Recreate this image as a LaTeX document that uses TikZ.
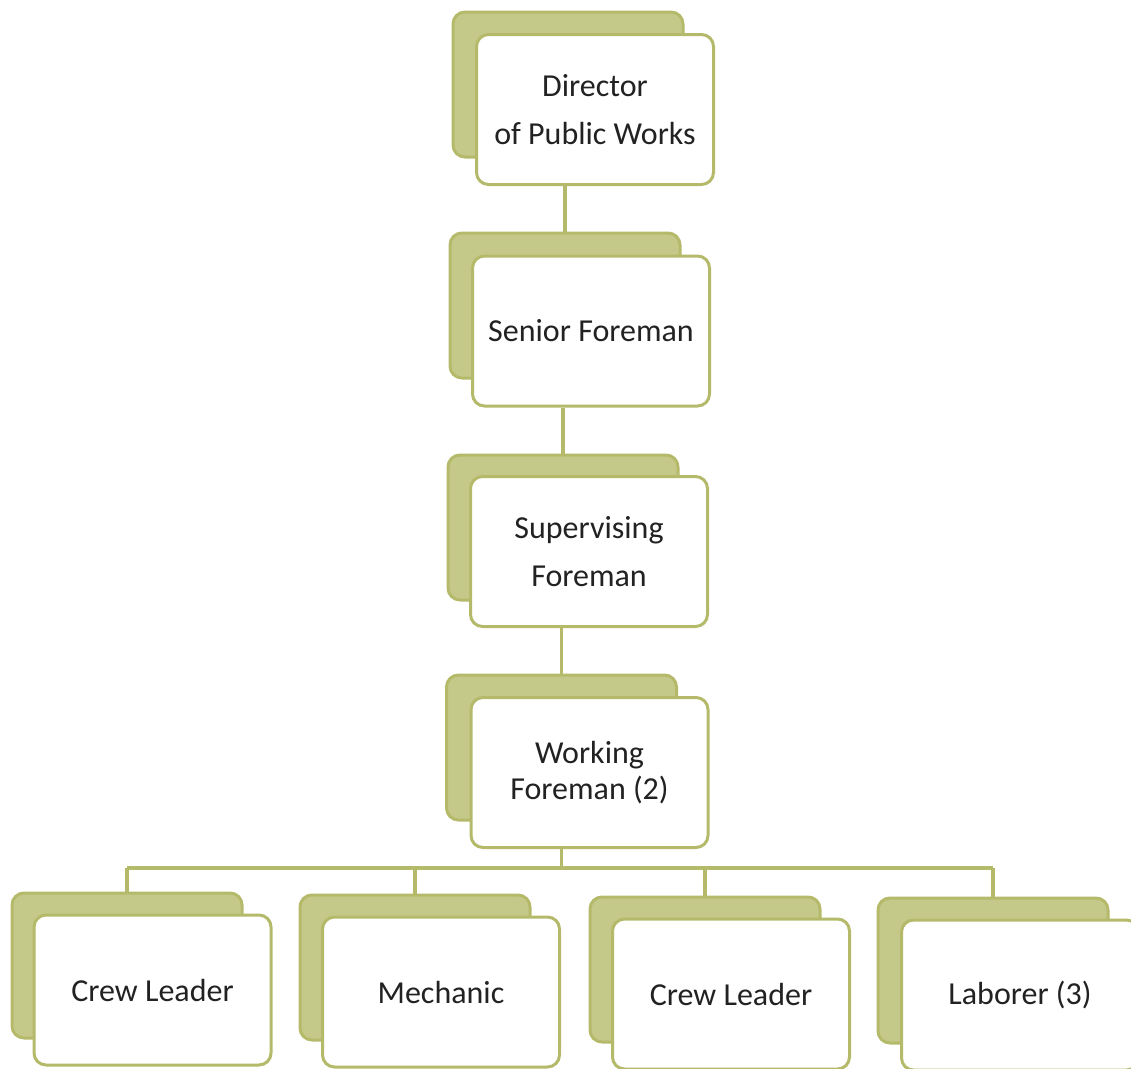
\documentclass[tikz,border=0pt]{standalone}
\usepackage{fontspec}
\setmainfont{Carlito}
\definecolor{backfill}{RGB}{196,201,138}
\definecolor{edgegreen}{RGB}{180,186,106}
\definecolor{labeltext}{RGB}{34,34,34}
\begin{document}
\begin{tikzpicture}[x=1pt,y=-1pt,
  backbox/.style={draw=edgegreen, fill=backfill, line width=3pt, rounded corners=12pt,
    minimum width=230pt, minimum height=145pt, inner sep=0pt},
  frontbox/.style={draw=edgegreen, fill=white, line width=3pt, rounded corners=12pt,
    minimum width=237pt, minimum height=150pt, inner sep=0pt, align=center,
    text=labeltext, font=\fontsize{32}{48}\selectfont},
  link/.style={draw=edgegreen, line width=3.5pt}]
\useasboundingbox (0,0) rectangle (1131,1068);

% chain of command
\node[backbox] (dirb) at (568,84.5) {};
\node[frontbox] (dir) at (595,109.5) {Director\\of Public Works};
\node[backbox] (srb) at (565,305.5) {};
\node[frontbox] (sr) at (591,331) {Senior Foreman};
\node[backbox] (supb) at (563,527.5) {};
\node[frontbox] (sup) at (589,551.5) {Supervising\\Foreman};
\node[backbox] (wfb) at (561.5,747.5) {};
\node[frontbox, font=\fontsize{32}{36}\selectfont] (wf) at (589.5,772.5) {Working\\Foreman (2)};

% crew row
\node[backbox] (c1b) at (127,965.5) {};
\node[frontbox] (c1) at (152.5,990) {Crew Leader};
\node[backbox] (mecb) at (415,967.5) {};
\node[frontbox] (mec) at (441,992) {Mechanic};
\node[backbox] (c2b) at (705,969.5) {};
\node[frontbox] (c2) at (731,994) {Crew Leader};
\node[backbox] (labb) at (993,970.5) {};
\node[frontbox] (lab) at (1020,995) {Laborer (3)};

% vertical links
\draw[link] (srb.north |- dir.south) -- (srb.north);
\draw[link] (supb.north |- sr.south) -- (supb.north);
\draw[link] (wfb.north |- sup.south) -- (wfb.north);

% bus to the crew row
\coordinate (bus) at (0,868);
\draw[link] (wfb.center |- wf.south) -- (wfb.center |- bus);
\draw[link] (c1b.north |- bus) -- (labb.north |- bus);
\draw[link] (c1b.north |- bus) -- (c1b.north);
\draw[link] (mecb.north |- bus) -- (mecb.north);
\draw[link] (c2b.north |- bus) -- (c2b.north);
\draw[link] (labb.north |- bus) -- (labb.north);
\end{tikzpicture}
\end{document}
